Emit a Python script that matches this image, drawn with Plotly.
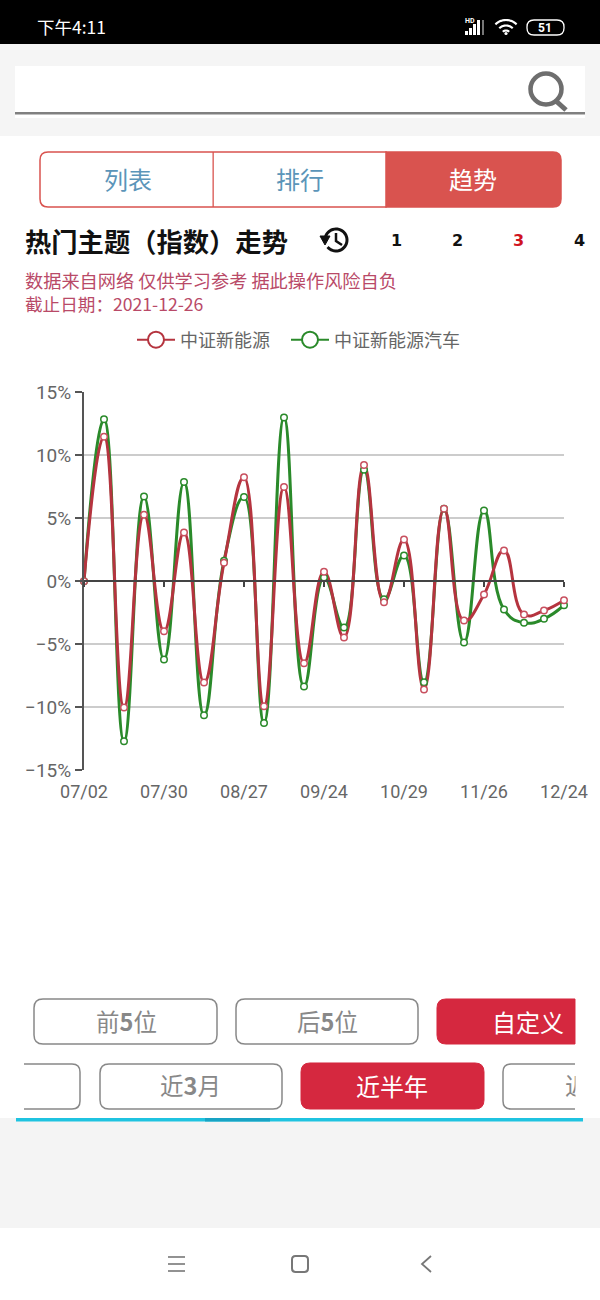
import numpy as np
import plotly.graph_objects as go

W, H = 600, 1300

# weekly points
steps = list(range(25))
date_ticks = [0, 4, 8, 12, 16, 20, 24]
date_labels = ['07/02', '07/30', '08/27', '09/24', '10/29', '11/26', '12/24']
pct_ticks = [-15, -10, -5, 0, 5, 10, 15]
pct_labels = ['−15%', '−10%', '−5%', '0%', '5%', '10%', '15%']
name_red = '中证新能源'
name_green = '中证新能源汽车'
red = [0, 11.47, -10.04, 5.27, -3.97, 3.87, -8.05, 1.46, 8.26, -9.93, 7.47, -6.52, 0.74,
       -4.48, 9.22, -1.67, 3.31, -8.61, 5.75, -3.13, -1.06, 2.44, -2.65, -2.33, -1.51]
green = [0, 12.85, -12.72, 6.73, -6.23, 7.87, -10.65, 1.62, 6.68, -11.26, 13.0, -8.37, 0.29,
         -3.68, 8.85, -1.43, 2.04, -8.03, 5.75, -4.87, 5.62, -2.25, -3.31, -2.99, -1.91]

RED = '#b5343f'
GREEN = '#2a8a2a'
CJK = 'Noto Sans CJK SC'
LATIN = 'Roboto, Noto Sans CJK SC'

plot_l, plot_r, plot_t, plot_b = 84, 564, 392.3, 770


def fx(px):
    return px / W


def fy(py):
    return 1 - py / H


shapes = []
notes = []


def rect(x0, y0, x1, y1, fill, line=None, lw=0):
    shapes.append(dict(type='rect', xref='paper', yref='paper', x0=fx(x0), x1=fx(x1), y0=fy(y0), y1=fy(y1),
                       fillcolor=fill, line=dict(color=line or fill, width=lw)))


def pathstr(cmds):
    # cmds are (letter, px, py, ...) in screen pixels
    out = ''
    for c in cmds:
        if c[0] == 'Z':
            out += 'Z'
            continue
        nums = []
        for k in range(1, len(c), 2):
            nums.append(f'{fx(c[k]):.5f},{fy(c[k + 1]):.5f}')
        out += c[0] + ' '.join(nums) + ' '
    return out


def path(cmds, line, lw=1.5, fill='rgba(0,0,0,0)'):
    shapes.append(dict(type='path', xref='paper', yref='paper', path=pathstr(cmds), fillcolor=fill,
                       line=dict(color=line, width=lw)))


def round_box(x0, y0, x1, y1, r, fill, line, lw=1.5, corners=(1, 1, 1, 1)):
    tl, tr, br, bl = [r * c for c in corners]
    path([('M', x0 + tl, y0), ('L', x1 - tr, y0), ('Q', x1, y0, x1, y0 + tr), ('L', x1, y1 - br),
          ('Q', x1, y1, x1 - br, y1), ('L', x0 + bl, y1), ('Q', x0, y1, x0, y1 - bl), ('L', x0, y0 + tl),
          ('Q', x0, y0, x0 + tl, y0), ('Z',)], line, lw, fill)


def arc(cx, cy, r, a0, a1, line, lw):
    ang = np.radians(np.linspace(a0, a1, 40))
    pts = [('L', cx + r * np.cos(a), cy - r * np.sin(a)) for a in ang]
    pts[0] = ('M',) + pts[0][1:]
    path(pts, line, lw)


def ring(cx, cy, r, line, lw, fill='rgba(0,0,0,0)'):
    shapes.append(dict(type='circle', xref='paper', yref='paper', x0=fx(cx - r), x1=fx(cx + r),
                       y0=fy(cy + r), y1=fy(cy - r), fillcolor=fill, line=dict(color=line, width=lw)))


def text(s, x, y, size, color, anchor='center', family=CJK, bold=False):
    notes.append(dict(text=f'<b>{s}</b>' if bold else s, x=fx(x), y=fy(y), xref='paper', yref='paper',
                      xanchor=anchor, yanchor='middle', showarrow=False,
                      font=dict(size=size, color=color, family=family)))


# status bar
rect(0, 0, W, 44, '#000000')
text('下午4:11', 35, 27, 17.5, '#ffffff', 'left')
text('HD', 463, 21, 7, '#ffffff', 'left', LATIN, True)
for i, top in enumerate([31, 28, 24, 20]):
    rect(465 + i * 4, top, 468 + i * 4, 35, '#ffffff')
rect(482, 20, 484, 35, '#777777')
for r, lw in [(15, 2.2), (9.5, 2.2), (4.5, 2.2)]:
    arc(506, 35, r, 45, 135, '#ffffff', lw)
ring(506, 33.5, 1.6, '#ffffff', 0, '#ffffff')
round_box(527, 20, 564, 35, 7, 'rgba(0,0,0,0)', '#ffffff', 1.3)
text('51', 545, 28, 12, '#ffffff', 'center', LATIN, True)

# search band
rect(0, 44, W, 136, '#f5f5f5')
rect(15, 66, 585, 118, '#ffffff')
rect(15, 112, 585, 114.5, '#808080')
ring(546, 89, 15.5, '#6e6e6e', 4.5)
path([('M', 556, 101), ('L', 566, 110)], '#6e6e6e', 5)

# tabs
round_box(386, 152, 561, 207, 8, '#d9534f', '#d9534f', 1.5, (0, 1, 1, 0))
round_box(40, 152, 386, 207, 8, '#ffffff', '#d9534f', 1.5, (1, 0, 0, 1))
rect(212.5, 152, 213.8, 207, '#d9534f')
text('列表', 128, 179, 24, '#5b95b9')
text('排行', 300, 179, 24, '#5b95b9')
text('趋势', 473, 179, 24, '#ffffff')

# heading
text('热门主题（指数）走势', 23, 240, 26.3, '#111111', 'left', CJK, True)
arc(336, 240, 11, 170, -140, '#111111', 3)
path([('M', 320, 236), ('L', 330, 236), ('L', 325, 245), ('Z',)], '#111111', 1, '#111111')
path([('M', 336, 233), ('L', 336, 241), ('L', 342, 245)], '#111111', 2.5)
for label, x, c in [('1', 396, '#111111'), ('2', 457, '#111111'), ('3', 518, '#d0131f'), ('4', 579, '#111111')]:
    text(label, x, 240, 16, c, 'center', 'DejaVu Sans', True)
text('数据来自网络 仅供学习参考 据此操作风险自负', 23, 280, 18.2, '#b94a68', 'left')
text('截止日期：2021-12-26', 23, 304, 17.6, '#b94a68', 'left')

# bottom buttons
BTN = '#888888'
CRIMSON = '#d5283f'
round_box(34, 999, 217, 1044, 9, '#ffffff', BTN)
text('前<b>5</b>位', 126, 1021, 23.5, '#888888')
round_box(236, 999, 418, 1044, 9, '#ffffff', BTN)
text('后<b>5</b>位', 327, 1021, 23.5, '#888888')
round_box(437, 999, 575, 1044, 9, CRIMSON, CRIMSON, 1, (1, 0, 0, 1))
text('自定义', 528, 1021, 24, '#ffffff')
path([('M', 24, 1064), ('L', 72, 1064), ('Q', 80, 1064, 80, 1072), ('L', 80, 1101), ('Q', 80, 1109, 72, 1109),
      ('L', 24, 1109)], BTN)
round_box(100, 1064, 282, 1109, 9, '#ffffff', BTN)
text('近<b>3</b>月', 190, 1085, 23.5, '#888888')
round_box(301, 1063, 484, 1109, 9, CRIMSON, CRIMSON, 1)
text('近半年', 392, 1085, 24, '#ffffff')
path([('M', 575, 1064), ('L', 511, 1064), ('Q', 503, 1064, 503, 1072), ('L', 503, 1101), ('Q', 503, 1109, 511, 1109),
      ('L', 575, 1109)], BTN)
text('近', 563, 1085, 23.5, '#888888', 'left')
notes.append(dict(text=' ', x=fx(575), y=fy(1086), xref='paper', yref='paper', xanchor='left', yanchor='middle',
                  showarrow=False, width=25, height=50, bgcolor='#ffffff', font=dict(size=10)))

# footer
rect(0, 1118, W, 1228, '#f4f4f4')
rect(16, 1118, 583, 1121.5, '#1fc3e0')
rect(205, 1118, 270, 1121.5, '#18a3c4')
for y in [1257, 1264, 1271]:
    path([('M', 168, y), ('L', 185, y)], '#777777', 1.6)
round_box(292, 1256, 308, 1272, 3.5, 'rgba(0,0,0,0)', '#777777', 2)
path([('M', 431, 1256), ('L', 422, 1264), ('L', 431, 1272)], '#777777', 1.8)

fig = go.Figure()

# legend entries carry the big ring, the drawn series stay out of the legend
for name, color, lg in [(name_red, RED, 'legend'), (name_green, GREEN, 'legend2')]:
    fig.add_trace(go.Scatter(x=[None], y=[None], name=name, mode='lines+markers', legend=lg,
                             line=dict(color=color, width=2),
                             marker=dict(size=16, color='#ffffff', line=dict(color=color, width=2))))

for vals, color in [(green, GREEN), (red, RED)]:
    fig.add_trace(go.Scatter(x=steps, y=vals, mode='lines', showlegend=False, cliponaxis=False,
                             line=dict(color=color, width=3, shape='spline', smoothing=1.3)))
for vals, color in [(green, GREEN), (red, '#c8505f')]:
    fig.add_trace(go.Scatter(x=steps, y=vals, mode='markers', showlegend=False, cliponaxis=False,
                             marker=dict(size=6.5, color='#ffffff', line=dict(color=color, width=1.5))))

# only there so the axis on the zero line gets drawn
fig.add_trace(go.Scatter(x=date_ticks, y=[0] * len(date_ticks), xaxis='x2', mode='none', showlegend=False))

legend_font = dict(size=18, color='#666666', family=CJK)

fig.update_layout(
    width=W, height=H, margin=dict(l=0, r=0, t=0, b=0, pad=0, autoexpand=False), autosize=False,
    paper_bgcolor='#ffffff', plot_bgcolor='rgba(0,0,0,0)', hovermode=False,
    shapes=shapes, annotations=notes,
    legend=dict(orientation='h', x=fx(132), xanchor='left', y=fy(340), yanchor='middle', itemwidth=38,
                font=legend_font, bgcolor='rgba(0,0,0,0)'),
    legend2=dict(orientation='h', x=fx(286), xanchor='left', y=fy(340), yanchor='middle', itemwidth=38,
                 font=legend_font, bgcolor='rgba(0,0,0,0)'),
    xaxis=dict(domain=[fx(plot_l), fx(plot_r)], range=[0, 24], tickvals=date_ticks, ticktext=date_labels,
               showgrid=False, zeroline=False, showline=False, ticks='', automargin=False, ticklabelstandoff=9,
               tickfont=dict(size=18, color='#666666', family=LATIN)),
    xaxis2=dict(domain=[fx(plot_l), fx(plot_r)], range=[0, 24], overlaying='x', anchor='free',
                position=fy((plot_t + plot_b) / 2), side='bottom', tickvals=date_ticks, showticklabels=False,
                showgrid=False, zeroline=False, showline=True, linecolor='#444444', linewidth=1.5,
                ticks='outside', ticklen=5, tickwidth=1.5, tickcolor='#444444'),
    yaxis=dict(domain=[fy(plot_b), fy(plot_t)], range=[-15, 15], tickvals=pct_ticks, ticktext=pct_labels,
               showgrid=True, gridcolor='#cccccc', gridwidth=2, zeroline=False, showline=True, automargin=False,
               linecolor='#555555', linewidth=2, ticks='outside', ticklen=7, tickwidth=2, tickcolor='#555555',
               tickfont=dict(size=19, color='#666666', family=LATIN)),
)

fig.write_html("out.html", config={'displayModeBar': False},
               post_script="document.body.style.margin='0';document.body.style.overflow='hidden';")
